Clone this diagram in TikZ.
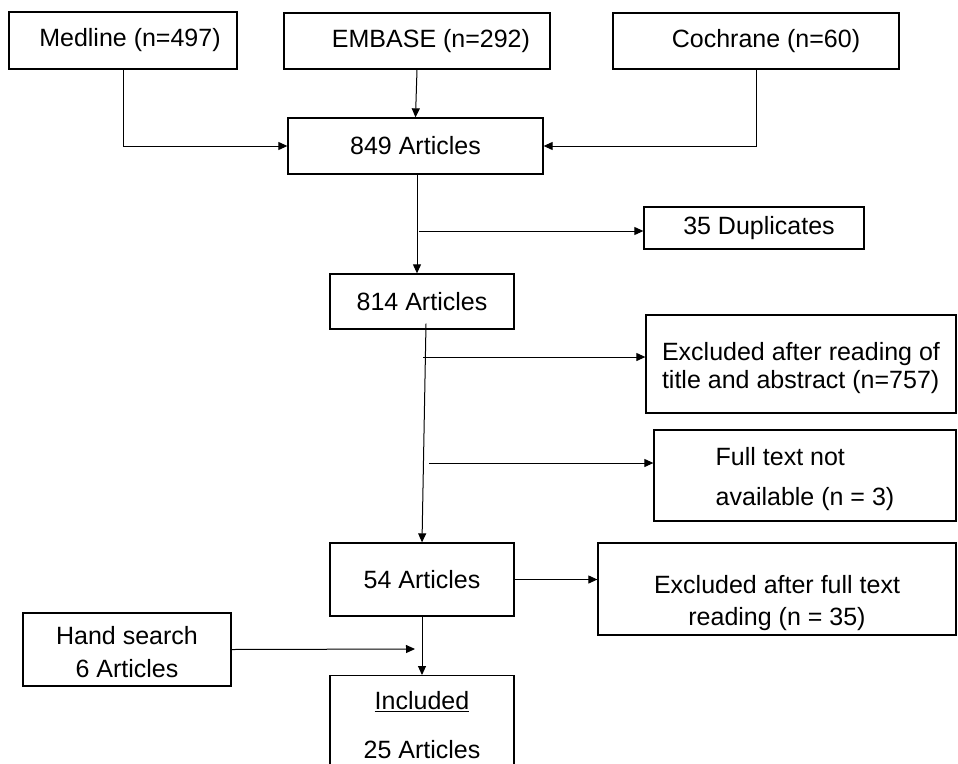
\documentclass[tikz,border=0pt]{standalone}
\usepackage{fontspec}
\setmainfont{Liberation Sans}
\usetikzlibrary{arrows.meta}

\begin{document}
\begin{tikzpicture}[x=1pt, y=-1pt,
    flowbox/.style={draw, line width=1.3pt, inner sep=0pt, font=\fontsize{25}{28}\selectfont},
    flowarrow/.style={line width=1pt, -{Triangle[length=9pt,width=8pt]}}]
    \useasboundingbox (0,0) rectangle (958,763);
    \clip (0,0) rectangle (958,763);

    % draw database boxes
    \node[flowbox, minimum width=228pt, minimum height=57pt] (medline) at (123,40.5) {\hspace{14pt}Medline (n=497)};
    \node[flowbox, minimum width=266pt, minimum height=56pt] (embase) at (417,41) {\hspace{28pt}EMBASE (n=292)};
    \node[flowbox, minimum width=286pt, minimum height=56pt] (cochrane) at (756,41) {\hspace{20pt}Cochrane (n=60)};

    % draw screening boxes
    \node[flowbox, minimum width=255pt, minimum height=56pt] (art849) at (415.5,146) {849 Articles};
    \node[flowbox, minimum width=220pt, minimum height=42pt] (dup) at (754,228) {\hspace{10pt}35 Duplicates};
    \node[flowbox, minimum width=184pt, minimum height=55pt] (art814) at (422,301.5) {814 Articles};
    \node[flowbox, minimum width=310pt, minimum height=98pt, align=left] (exclabs) at (801,364) {\rule{0pt}{26.3pt}Excluded after reading of\\title and abstract (n=757)};
    \node[flowbox, minimum width=302pt, minimum height=91pt, align=left, font=\fontsize{25}{40}\selectfont] (notavail) at (805,475.5) {\rule{0pt}{25.9pt}Full text not\\available (n = 3)};
    \node[flowbox, minimum width=184pt, minimum height=73pt] (art54) at (422,579.5) {54 Articles};
    \node[flowbox, minimum width=358pt, minimum height=92pt, align=center, font=\fontsize{25}{32}\selectfont] (exclfull) at (777,589) {\rule{0pt}{46.3pt}Excluded after full text\\reading (n = 35)};
    \node[flowbox, minimum width=208pt, minimum height=73pt, align=center, font=\fontsize{25}{33}\selectfont] (hand) at (127,649.5) {\rule{0pt}{23.9pt}Hand search\\6 Articles};
    \node[flowbox, minimum width=184pt, inner ysep=16pt, anchor=north, align=center, font=\fontsize{25}{30}\selectfont] (incl) at (422,675) {\underline{Included}\\[19pt]25 Articles};

    % draw arrows
    \draw[flowarrow] (medline.south) |- (art849.west);
    \draw[flowarrow] (embase.south) -- (art849.north);
    \draw[flowarrow] (cochrane.south) |- (art849.east);
    \draw[flowarrow] ([xshift=1.5pt]art849.south) -- ([xshift=1.5pt]art849.south |- art814.north);
    \coordinate (dupfork) at (419,231);
    \draw[flowarrow] (dupfork) -- (dupfork -| dup.west);
    \draw[flowarrow] ([xshift=4pt,yshift=6pt]art814.south) -- (art54.north);
    \coordinate (absfork) at (423,357);
    \draw[flowarrow] (absfork) -- (absfork -| exclabs.west);
    \coordinate (availfork) at (429,463);
    \draw[flowarrow] (availfork) -- (availfork -| notavail.west);
    \draw[flowarrow] (art54.east) -- (art54.east -| exclfull.west);
    \draw[flowarrow] (art54.south) -- (incl.north);
    \coordinate (handend) at (415,649);
    \draw[flowarrow] (hand.east) -- (handend);
\end{tikzpicture}
\end{document}
